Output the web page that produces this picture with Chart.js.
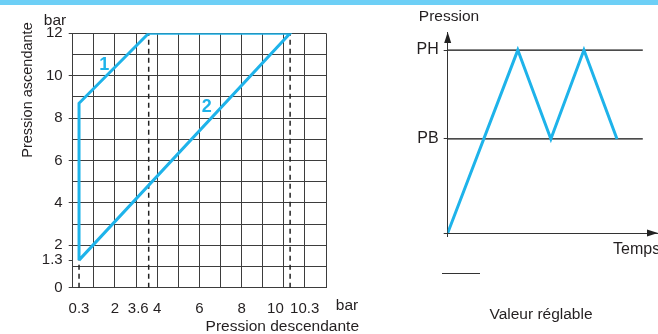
<!DOCTYPE html>
<html>
<head>
<meta charset="utf-8">
<script src="https://cdn.jsdelivr.net/npm/chart.js@4"></script>
<style>
  body { margin: 0; background: #fff; width: 658px; height: 334px; overflow: hidden; position: relative; }
  #bandeau { position: absolute; left: 0; top: 0; width: 658px; height: 5px; background: #6dcff6; }
  #graphe1 { position: absolute; left: 0; top: 0; }
  #graphe2 { position: absolute; left: 380px; top: 0; }
</style>
</head>
<body>
<canvas id="graphe1" width="380" height="334" style="width:380px;height:334px"></canvas>
<canvas id="graphe2" width="278" height="334" style="width:278px;height:334px"></canvas>
<div id="bandeau"></div>
<script>
// courbe de réglage (pression descendante -> pression ascendante)
const descendante = [0.3, 0.3, 3.6, 10.3, 0.3];
const ascendante = [1.3, 8.7, 12, 12, 1.3];
// repères pointillés
const repereX = [0.3, 3.6, 10.3];
const repereHaut = [1.3, 12, 12];
// étiquettes de l'axe x : centrées, calées à droite, calées à gauche
const ticksX = [0.3, 2, 4, 6, 8];
const ticksXFin = [3.6, 10];
const ticksXDebut = [10.3];
const ticksY = [0, 1.3, 2, 4, 6, 8, 10, 12];

// cycle pression / temps
const PB = 4.68;
const PH = 9.1;
const temps = [0, 2.12, 3.12, 4.12, 5.12];
const pression = [0, PH, PB, PH, PB];
const finSeuil = 5.9;

const bleu = '#1eb3ea';
const grille = '#3d3d3d';
const texte = '#231f20';
const police = 'Liberation Sans, Arial, sans-serif';

const repereData = [];
repereX.forEach((x, i) => {
  repereData.push({ x: x, y: 0 }, { x: x, y: repereHaut[i] }, { x: NaN, y: NaN });
});

const textes1 = {
  id: 'textes1',
  afterLayout(chart) {
    // les axes d'étiquettes décalées partagent la bande de l'axe principal
    const ref = chart.scales.xl;
    ['xe', 'xs'].forEach(id => {
      const s = chart.scales[id];
      s.top = ref.top;
      s.bottom = ref.bottom;
      s.height = ref.height;
    });
  },
  afterDraw(chart) {
    const ctx = chart.ctx;
    const x = chart.scales.x, y = chart.scales.y;
    ctx.save();
    ctx.fillStyle = texte;
    ctx.font = '15.5px ' + police;
    ctx.textAlign = 'center';
    ctx.textBaseline = 'middle';
    ctx.fillText('bar', 55, 21);
    ctx.fillText('bar', 347, 306);
    ctx.textAlign = 'right';
    ctx.fillText('Pression descendante', 359, 327);
    ctx.save();
    ctx.font = '14.5px ' + police;
    ctx.translate(28, 90);
    ctx.rotate(-Math.PI / 2);
    ctx.textAlign = 'center';
    ctx.fillText('Pression ascendante', 0, 0);
    ctx.restore();
    ctx.fillStyle = bleu;
    ctx.font = 'bold 18px ' + police;
    ctx.textAlign = 'center';
    ctx.fillText('1', x.getPixelForValue(1.5), y.getPixelForValue(10.5));
    ctx.fillText('2', x.getPixelForValue(6.35), y.getPixelForValue(8.5));
    ctx.restore();
  }
};

function axeEtiquettes(valeurs, align, poids, hauteur) {
  return {
    type: 'linear', position: 'bottom', min: 0, max: 12, weight: poids,
    afterBuildTicks: s => { s.ticks = valeurs.map(v => ({ value: v })); },
    ticks: { autoSkip: false, maxRotation: 0, align: align, padding: 4, color: texte,
             font: { family: police, size: 15 }, callback: v => String(v) },
    grid: { display: false },
    border: { display: false },
    afterFit: s => { s.height = hauteur; }
  };
}

new Chart(document.getElementById('graphe1'), {
  type: 'scatter',
  data: {
    datasets: [{
      data: descendante.map((v, i) => ({ x: v, y: ascendante[i] })),
      showLine: true,
      borderColor: bleu,
      borderWidth: 3,
      pointRadius: 0,
      xAxisID: 'x', yAxisID: 'y'
    }, {
      data: repereData,
      showLine: true,
      spanGaps: false,
      borderColor: '#222',
      borderWidth: 1.5,
      borderDash: [5, 4],
      pointRadius: 0,
      xAxisID: 'x', yAxisID: 'y'
    }]
  },
  options: {
    responsive: false,
    animation: false,
    layout: { padding: { top: 33.3, right: 54, left: 0, bottom: 0 } },
    plugins: { legend: { display: false }, tooltip: { enabled: false } },
    scales: {
      x: {
        type: 'linear', position: 'bottom', min: 0, max: 12, weight: 0,
        ticks: { stepSize: 1, display: false },
        grid: { color: grille, lineWidth: 1, drawTicks: false },
        border: { display: false },
        afterFit: s => { s.height = 0; }
      },
      xe: axeEtiquettes(ticksXFin, 'end', 1, 0),
      xs: axeEtiquettes(ticksXDebut, 'start', 2, 0),
      xl: axeEtiquettes(ticksX, 'center', 3, 46.3),
      y: {
        type: 'linear', position: 'left', min: 0, max: 12, weight: 0,
        ticks: { stepSize: 1, display: false },
        grid: { color: grille, lineWidth: 1, drawTicks: false },
        border: { display: false },
        afterFit: s => { s.width = 0; }
      },
      yl: {
        type: 'linear', position: 'left', min: 0, max: 12, weight: 1,
        afterBuildTicks: s => { s.ticks = ticksY.map(v => ({ value: v })); },
        ticks: { autoSkip: false, padding: 6, color: texte, font: { family: police, size: 15 },
                 callback: v => String(v) },
        grid: { drawOnChartArea: false, tickLength: 4, color: grille },
        border: { display: false },
        afterFit: s => { s.width = 72.7; }
      }
    }
  },
  plugins: [textes1]
});

const fleches = {
  id: 'fleches',
  afterDraw(chart) {
    const ctx = chart.ctx;
    const a = chart.chartArea;
    ctx.save();
    ctx.fillStyle = '#222';
    ctx.beginPath();
    ctx.moveTo(a.left, a.top);
    ctx.lineTo(a.left - 3.5, a.top + 11);
    ctx.lineTo(a.left + 3.5, a.top + 11);
    ctx.closePath();
    ctx.fill();
    ctx.beginPath();
    ctx.moveTo(a.right, a.bottom);
    ctx.lineTo(a.right - 11, a.bottom - 3.5);
    ctx.lineTo(a.right - 11, a.bottom + 3.5);
    ctx.closePath();
    ctx.fill();

    ctx.fillStyle = texte;
    ctx.font = '15.5px ' + police;
    ctx.textBaseline = 'middle';
    ctx.textAlign = 'center';
    ctx.fillText('Pression', 69, 17);
    ctx.fillText('Valeur réglable', 161, 315);
    ctx.font = '16px ' + police;
    ctx.textAlign = 'left';
    ctx.fillText('Temps', 233, 250);
    ctx.strokeStyle = '#333';
    ctx.lineWidth = 1;
    ctx.beginPath();
    ctx.moveTo(62, 273.5);
    ctx.lineTo(100, 273.5);
    ctx.stroke();
    ctx.restore();
  }
};

new Chart(document.getElementById('graphe2'), {
  type: 'scatter',
  data: {
    datasets: [{
      data: temps.map((t, i) => ({ x: t, y: pression[i] })),
      showLine: true,
      borderColor: bleu,
      borderWidth: 3,
      pointRadius: 0
    }, {
      data: [{ x: 0, y: PH }, { x: finSeuil, y: PH }, { x: NaN, y: NaN }, { x: 0, y: PB }, { x: finSeuil, y: PB }],
      showLine: true,
      borderColor: '#111',
      borderWidth: 1.2,
      pointRadius: 0
    }]
  },
  options: {
    responsive: false,
    animation: false,
    layout: { padding: { top: 32, right: 0, left: 0, bottom: 0 } },
    plugins: { legend: { display: false }, tooltip: { enabled: false } },
    scales: {
      x: {
        type: 'linear', min: 0, max: 6.36,
        afterBuildTicks: s => { s.ticks = [{ value: 0 }]; },
        ticks: { display: false },
        grid: { drawOnChartArea: false, tickLength: 4, color: '#333' },
        border: { color: '#333', width: 1 },
        afterFit: s => { s.height = 101; }
      },
      y: {
        type: 'linear', min: 0, max: 10,
        afterBuildTicks: s => { s.ticks = [{ value: 0 }, { value: PB }, { value: PH }]; },
        ticks: {
          padding: 5, color: texte, font: { family: police, size: 16 },
          callback: v => v === PB ? 'PB' : (v === PH ? 'PH' : '')
        },
        grid: { drawOnChartArea: false, tickLength: 4, color: '#333' },
        border: { color: '#333', width: 1 },
        afterFit: s => { s.width = 67.7; }
      }
    }
  },
  plugins: [fleches]
});
</script>
</body>
</html>
